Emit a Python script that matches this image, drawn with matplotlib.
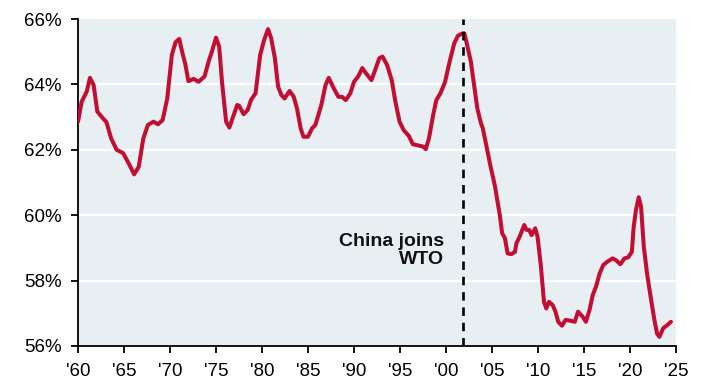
import matplotlib
matplotlib.use("Agg")
import matplotlib.pyplot as plt
from matplotlib.ticker import FixedLocator

plt.rcParams['font.family'] = ['Liberation Sans', 'DejaVu Sans']

years = [1960.0, 1960.4, 1960.95, 1961.3, 1961.7, 1962.1, 1962.6, 1963.1, 1963.6, 1964.2,
         1964.9, 1965.5, 1966.1, 1966.6, 1967.1, 1967.6, 1968.2, 1968.7, 1969.2, 1969.7,
         1970.2, 1970.6, 1971.0, 1971.4, 1971.65, 1972.0, 1972.55, 1973.1, 1973.75, 1974.2,
         1974.55, 1975.0, 1975.35, 1975.65, 1976.1, 1976.45, 1976.8, 1977.3, 1977.5, 1978.0,
         1978.45, 1978.8, 1979.3, 1979.8, 1980.2, 1980.65, 1981.0, 1981.4, 1981.75, 1982.1,
         1982.45, 1983.0, 1983.45, 1983.8, 1984.2, 1984.5, 1985.0, 1985.45, 1985.8, 1986.45,
         1986.9, 1987.25, 1987.8, 1988.3, 1988.7, 1989.1, 1989.6, 1990.0, 1990.45, 1990.9,
         1991.3, 1991.9, 1992.3, 1992.75, 1993.1, 1993.6, 1994.1, 1994.5, 1994.95, 1995.4,
         1995.95, 1996.4, 1997.0, 1997.5, 1997.8, 1998.15, 1998.6, 1998.95, 1999.4, 1999.9,
         2000.4, 2000.9, 2001.3, 2001.8, 2002.0, 2002.3, 2002.7, 2003.05, 2003.4, 2003.8,
         2004.0, 2004.4, 2004.85, 2005.3, 2005.6, 2005.85, 2006.1, 2006.4, 2006.7, 2007.1,
         2007.5, 2007.65, 2008.0, 2008.5, 2008.75, 2009.05, 2009.3, 2009.7, 2009.95, 2010.3,
         2010.65, 2010.9, 2011.2, 2011.6, 2011.9, 2012.2, 2012.6, 2013.0, 2013.55, 2014.0,
         2014.35, 2014.85, 2015.2, 2015.6, 2015.95, 2016.3, 2016.7, 2017.1, 2017.55, 2018.1,
         2018.45, 2018.95, 2019.4, 2019.8, 2020.2, 2020.4, 2020.65, 2020.95, 2021.2, 2021.5,
         2021.85, 2022.3, 2022.65, 2022.95, 2023.2, 2023.6, 2024.05, 2024.45]

share = [62.86, 63.47, 63.78, 64.2, 63.98, 63.17, 63.0, 62.84, 62.35, 62.0,
         61.9, 61.59, 61.25, 61.48, 62.35, 62.76, 62.86, 62.78, 62.91, 63.57,
         64.9, 65.29, 65.39, 64.9, 64.64, 64.1, 64.17, 64.08, 64.24, 64.7,
         65.0, 65.43, 65.15, 64.08, 62.86, 62.68, 62.96, 63.37, 63.35, 63.09,
         63.22, 63.52, 63.73, 64.9, 65.33, 65.69, 65.41, 64.8, 63.93, 63.68,
         63.57, 63.8, 63.62, 63.27, 62.66, 62.4, 62.4, 62.66, 62.76, 63.37,
         63.98, 64.2, 63.88, 63.62, 63.62, 63.52, 63.73, 64.08, 64.24, 64.5,
         64.34, 64.13, 64.44, 64.8, 64.85, 64.59, 64.13, 63.47, 62.86, 62.6,
         62.43, 62.17, 62.13, 62.1, 62.02, 62.35, 63.06, 63.52, 63.73, 64.08,
         64.7, 65.26, 65.49, 65.56, 65.56, 65.2, 64.7, 63.98, 63.27, 62.81,
         62.66, 62.1, 61.48, 60.92, 60.41, 60.0, 59.45, 59.3, 58.83, 58.81,
         58.88, 59.14, 59.34, 59.7, 59.55, 59.55, 59.39, 59.6, 59.34, 58.48,
         57.35, 57.15, 57.35, 57.25, 57.05, 56.74, 56.62, 56.8, 56.77, 56.74,
         57.05, 56.9, 56.74, 57.1, 57.56, 57.81, 58.22, 58.48, 58.58, 58.68,
         58.63, 58.5, 58.68, 58.71, 58.88, 59.65, 60.16, 60.55, 60.26, 59.04,
         58.22, 57.4, 56.8, 56.37, 56.28, 56.54, 56.64, 56.74]

x_ticks = [1960, 1965, 1970, 1975, 1980, 1985, 1990, 1995, 2000, 2005, 2010, 2015, 2020, 2025]
x_labels = ["'60", "'65", "'70", "'75", "'80", "'85", "'90", "'95", "'00", "'05", "'10", "'15", "'20", "'25"]
y_ticks = [56, 58, 60, 62, 64, 66]
y_labels = ["56%", "58%", "60%", "62%", "64%", "66%"]
wto_year = 2001.9
wto_label = "China joins\nWTO"

fig = plt.figure(figsize=(7.02, 3.79), dpi=100)
ax = fig.add_axes([78/702, 1 - 346/379, (676 - 78)/702, (346 - 19)/379])
ax.set_facecolor('#e8eff3')

ax.set_xlim(1960, 2025)
ax.set_ylim(56, 66)

for yv in y_ticks[1:-1]:
    ax.axhline(yv, color='white', lw=1.6, zorder=1)

ax.plot(years, share, color='#c20e33', lw=2.9, solid_joinstyle='round',
        solid_capstyle='round', zorder=3)
ax.axvline(wto_year, color='black', lw=1.9, linestyle=(0, (3.2, 2.6)), zorder=4)

ax.text(1999.75, 58.93, wto_label, ha='right', va='center', multialignment='right',
        fontsize=14, fontweight='bold', color='#111111', linespacing=1.1, zorder=5)

ax.xaxis.set_major_locator(FixedLocator(x_ticks))
ax.set_xticklabels(x_labels)
ax.yaxis.set_major_locator(FixedLocator(y_ticks))
ax.set_yticklabels(y_labels)

for s in ['top', 'right']:
    ax.spines[s].set_visible(False)
for s in ['left', 'bottom']:
    ax.spines[s].set_linewidth(1.3)
    ax.spines[s].set_color('black')

ax.tick_params(axis='both', direction='out', length=5, width=1.3, labelsize=13.5,
               colors='black', pad=7)
ax.tick_params(axis='x', pad=7)

fig.savefig('out.png', dpi=100)
